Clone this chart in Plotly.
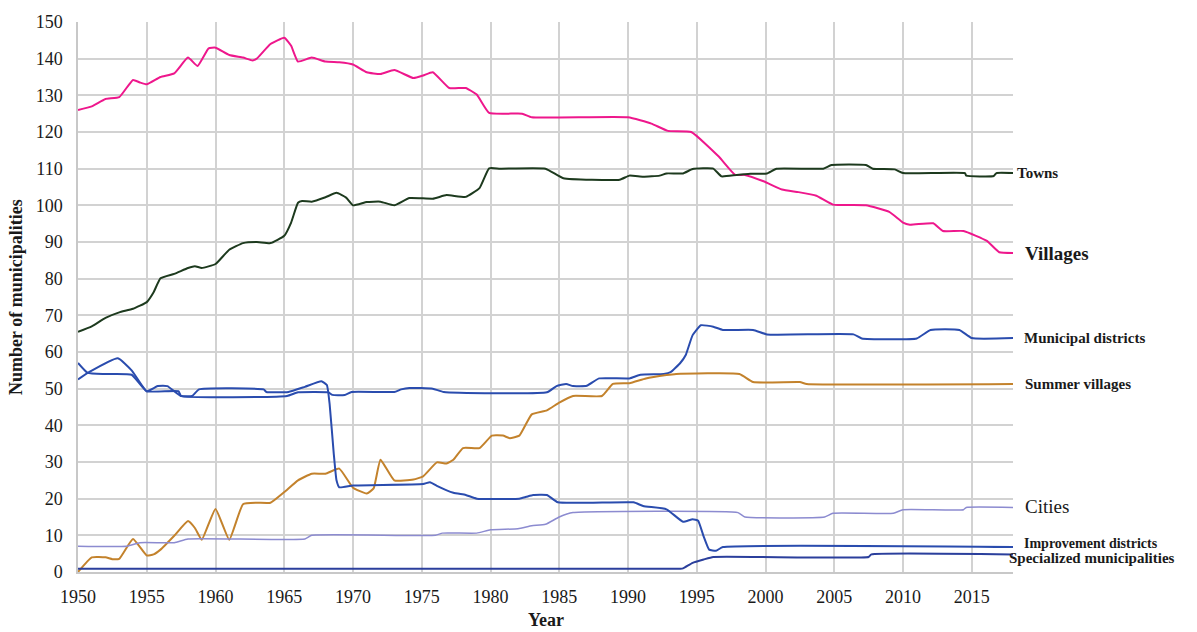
import plotly.graph_objects as go

# ---------------- data ----------------
villages_years = [1950, 1951, 1952, 1953, 1954, 1954.5, 1955, 1956, 1957, 1958, 1958.7, 1959.5, 1960,
                  1961, 1962, 1962.7, 1963, 1964, 1965, 1965.5, 1966, 1967, 1968, 1969, 1970, 1971,
                  1972, 1973, 1974.4, 1975.1, 1975.8, 1977, 1978.2, 1979, 1979.9, 1982.3, 1983, 1990,
                  1991.7, 1992.9, 1994.6, 1996.6, 1997.8, 1998.5, 1999.9, 2001.2, 2002.4, 2003.7,
                  2004.9, 2007.3, 2009, 2010, 2010.5, 2012.2, 2012.9, 2014.4, 2016.1, 2017, 2018]
villages = [126, 127, 129, 129.5, 134.2, 133.5, 133, 135, 136, 140.3, 138, 142.8, 143,
            141, 140.3, 139.5, 140, 144, 145.7, 143.5, 139.2, 140.3, 139.2, 139, 138.4, 136.3,
            135.8, 136.9, 134.7, 135.4, 136.3, 132, 132, 130.2, 125.2, 125, 124, 124,
            122.3, 120.3, 120, 113.3, 108.3, 108.3, 106.5, 104.3, 103.6, 102.6,
            100.2, 100, 98.2, 95.3, 94.7, 95.1, 93, 93, 90.3, 87.2, 87]

towns_years = [1950, 1951, 1952, 1953, 1954, 1955, 1955.5, 1956, 1957, 1958, 1958.5, 1959, 1960,
               1961, 1962, 1963, 1964, 1965, 1965.5, 1966, 1966.3, 1967, 1968, 1968.8, 1969.5,
               1970, 1971, 1972, 1973, 1974.1, 1975.8, 1976.8, 1978.2, 1979.2, 1979.9, 1980.7,
               1984, 1985.3, 1989.4, 1990.1, 1991.1, 1992.3, 1992.8, 1994, 1994.7, 1996.2, 1996.8,
               1997.9, 1998.9, 2000.1, 2000.8, 2004.2, 2004.8, 2007.3, 2007.8, 2009.4, 2010,
               2014.5, 2014.6, 2016.6, 2016.8, 2018]
towns = [65.5, 67, 69.3, 70.8, 71.8, 73.6, 76.3, 80.1, 81.3, 82.9, 83.4, 82.9, 84,
         87.9, 89.7, 90, 89.7, 91.7, 95.3, 100.7, 101.2, 101, 102.2, 103.4, 102.1,
         100, 100.9, 101, 100, 102, 101.8, 102.8, 102.3, 104.7, 110.1, 110,
         110, 107.4, 107, 108.1, 107.8, 108.1, 108.7, 108.7, 109.9, 110, 107.9,
         108.3, 108.6, 108.7, 110, 110, 111, 111, 110, 109.8, 108.8,
         108.8, 108.1, 108, 108.8, 108.8]

md_years = [1950, 1950.7, 1952, 1953.9, 1955, 1957.3, 1957.5, 1965.2, 1966, 1968.2, 1968.5, 1969.4,
            1969.9, 1973, 1973.5, 1974.1, 1975.8, 1976.6, 1984.1, 1984.8, 1985.5, 1986, 1987,
            1987.9, 1990.1, 1990.9, 1992.6, 1993.1, 1993.8, 1994.2, 1994.7, 1995.3, 1996.2,
            1996.9, 1999.1, 2000.1, 2006.4, 2007, 2011, 2012, 2014.1, 2015, 2018]
municipal_districts = [57, 54.3, 54, 53.8, 49.3, 49.3, 48, 48, 49, 49, 48.3, 48.3,
                       49.1, 49.1, 49.8, 50.2, 50, 49.1, 49, 50.7, 51.3, 50.7, 50.8,
                       52.8, 52.8, 53.8, 54, 54.5, 57, 59.2, 64.6, 67.3, 66.9,
                       66, 66, 64.8, 64.8, 63.7, 63.7, 66, 66, 63.8, 63.8]

sv_years = [1950, 1951, 1952, 1952.5, 1953, 1954, 1955, 1955.5, 1956, 1957, 1958, 1958.5, 1959,
            1960, 1961, 1962, 1963, 1964, 1965, 1966, 1967, 1968, 1969, 1970, 1971, 1971.5,
            1972, 1973, 1974.4, 1975.1, 1976.1, 1976.8, 1977.3, 1978, 1979.2, 1980.1, 1980.9,
            1981.4, 1982.1, 1983, 1984.1, 1985, 1986, 1988.1, 1988.9, 1990.1, 1991.3, 1992.8,
            1993.5, 1998.1, 1999.1, 2002.5, 2003, 2018]
summer_villages = [0, 4, 4, 3.5, 3.6, 9, 4.5, 4.8, 6.1, 9.9, 13.9, 12, 8.8,
                   17.2, 8.8, 18.5, 18.9, 18.9, 21.8, 25, 26.8, 26.8, 28.2, 23, 21.4, 22.8,
                   30.6, 25, 25.2, 26.1, 29.9, 29.6, 30.6, 33.8, 33.8, 37.2, 37.2,
                   36.5, 37.2, 43, 44.1, 46.2, 48, 48, 51.3, 51.5, 52.8, 53.7,
                   54, 54, 51.8, 51.8, 51.3, 51.3]

cities_years = [1950, 1953.5, 1954.5, 1957, 1958, 1966.5, 1967, 1976, 1976.5, 1979, 1980, 1982,
                1983, 1984, 1985, 1986, 1998, 1998.5, 2004.3, 2004.9, 2009.3, 2010, 2014.4,
                2014.6, 2018]
cities = [7, 7, 8, 8, 9, 9, 10, 10, 10.6, 10.6, 11.5, 11.8,
          12.6, 13, 15, 16.2, 16.2, 15, 15, 16, 16, 17, 17,
          17.6, 17.6]

id_years = [1950, 1950.8, 1952.9, 1953.9, 1955, 1955.8, 1956.5, 1957, 1957.5, 1958.3, 1958.8,
            1963.5, 1963.7, 1965.3, 1966.5, 1967.7, 1968.1, 1968.3, 1968.6, 1968.8, 1969, 1970,
            1975.1, 1975.6, 1976.1, 1977.3, 1978.2, 1979, 1982.1, 1982.6, 1983.1, 1984.1,
            1984.9, 1990.4, 1991.1, 1992.8, 1994, 1994.7, 1995.1, 1995.5, 1995.9, 1996.4,
            1996.9, 2018]
improvement_districts = [52.5, 54.5, 58.3, 55, 49.3, 50.7, 50.7, 49.3, 48, 48, 49.8,
                         49.8, 49.1, 49.1, 50.5, 52, 51, 45.8, 32.3, 25, 23.1, 23.6,
                         24, 24.5, 23.5, 21.6, 21, 20, 20, 20.5, 21, 21,
                         19, 19, 18, 17.1, 13.7, 14.4, 14, 9.7, 6.1, 5.8,
                         6.8, 6.8]

sm_years = [1950, 1993.8, 1994, 1994.7, 1995.5, 1996.2, 2007.5, 2007.7, 2018]
specialized = [0.9, 0.9, 1, 2.5, 3.4, 4.1, 4.1, 4.8, 4.8]

x_ticks = [1950, 1955, 1960, 1965, 1970, 1975, 1980, 1985, 1990, 1995, 2000, 2005, 2010, 2015]
y_ticks = [0, 10, 20, 30, 40, 50, 60, 70, 80, 90, 100, 110, 120, 130, 140, 150]

series = [
    ("Villages", villages_years, villages, "#ee178c", 2),
    ("Towns", towns_years, towns, "#1d3a1e", 2),
    ("Municipal districts", md_years, municipal_districts, "#2a4cae", 2),
    ("Summer villages", sv_years, summer_villages, "#c3822c", 2),
    ("Cities", cities_years, cities, "#8c8bd0", 1.5),
    ("Improvement districts", id_years, improvement_districts, "#2a4cae", 2),
    ("Specialized municipalities", sm_years, specialized, "#2b3f9c", 2),
]

fig = go.Figure()
for name, xs, ys, color, w in series:
    fig.add_trace(go.Scatter(x=xs, y=ys, mode="lines", name=name,
                             line=dict(color=color, width=w, shape="spline", smoothing=0.4)))

SERIF = "Liberation Serif, Times New Roman, serif"
TXT = "#1a1a1a"

# series labels to the right of the plot
labels = [
    ("Towns", 108.8, 2, 15, True),
    ("Villages", 87, 10, 19, True),
    ("Municipal districts", 63.8, 9, 15, True),
    ("Summer villages", 51.3, 10, 15, True),
    ("Cities", 18, 10, 19, False),
    ("Improvement districts", 7.9, 9, 14, True),
    ("Specialized municipalities", 3.7, -6, 15, True),
]
for text, yv, xs, size, bold in labels:
    fig.add_annotation(x=2018, y=yv, xref="x", yref="y", text=(f"<b>{text}</b>" if bold else text),
                       showarrow=False, xanchor="left", yanchor="middle", xshift=xs,
                       font=dict(family=SERIF, size=size, color=TXT))

# axis titles
fig.add_annotation(x=0, y=0.5, xref="paper", yref="paper", text="<b>Number of municipalities</b>",
                   textangle=-90, showarrow=False, xanchor="center", yanchor="middle", xshift=-62,
                   font=dict(family=SERIF, size=18, color=TXT))
fig.add_annotation(x=0.5, y=0, xref="paper", yref="paper", text="<b>Year</b>",
                   showarrow=False, xanchor="center", yanchor="middle", yshift=-48,
                   font=dict(family=SERIF, size=18, color=TXT))

fig.update_layout(
    width=1197, height=632,
    margin=dict(l=78, r=184, t=17, b=60),
    plot_bgcolor="white", paper_bgcolor="white",
    showlegend=False,
    font=dict(family=SERIF, size=18, color=TXT),
)
fig.update_xaxes(range=[1950, 2018], tickvals=x_ticks, showgrid=True, gridcolor="#d2d2d2",
                 gridwidth=1.5, showline=True, linecolor="#c8c8c8", linewidth=1.5,
                 zeroline=False, ticks="", ticklabelstandoff=8,
                 tickfont=dict(family=SERIF, size=18, color=TXT))
fig.update_yaxes(range=[0, 150], tickvals=y_ticks, showgrid=True, gridcolor="#d2d2d2",
                 gridwidth=1.5, showline=True, linecolor="#c8c8c8", linewidth=1.5,
                 zeroline=False, ticks="", ticklabelstandoff=10,
                 tickfont=dict(family=SERIF, size=18, color=TXT))

fig.write_html("out.html", config={"displayModeBar": False},
               post_script="document.body.style.margin='0';document.body.style.overflow='hidden';")
